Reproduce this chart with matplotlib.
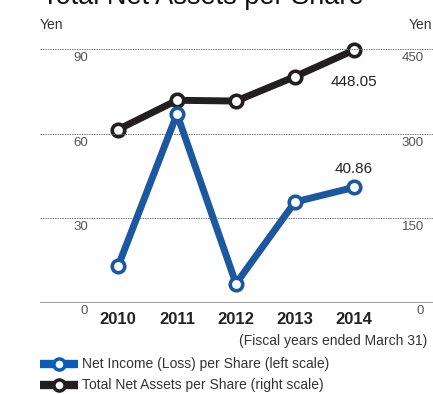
import matplotlib
matplotlib.use("Agg")
import matplotlib.pyplot as plt
from matplotlib.lines import Line2D
from matplotlib.transforms import offset_copy

plt.rcParams['font.family'] = ['Liberation Sans', 'DejaVu Sans']

years = ["2010", "2011", "2012", "2013", "2014"]
net_income = [12.8, 66.9, 6.7, 35.7, 40.86]          # left scale, yen
net_assets = [307.0, 359.0, 357.6, 401.0, 448.05]    # right scale, yen
left_ticks = [0, 30, 60, 90]
right_ticks = [0, 150, 300, 450]

blue = "#1c58a0"
black = "#231f20"
gray = "#555555"

W, H = 433, 394
fig = plt.figure(figsize=(W / 100, H / 100), dpi=100)
ax = fig.add_axes([40 / W, (H - 302.5) / H, (W - 40) / W, (302.5 - 49) / H])
ax2 = ax.twinx()
ax2.set_position(ax.get_position())

for a in (ax, ax2):
    a.set_xlim(-1.322, 5.339)
    for s in a.spines.values():
        s.set_visible(False)
    a.set_xticks([])
    a.set_yticks([])
    a.patch.set_visible(False)
ax.set_ylim(0, 90)
ax2.set_ylim(0, 450)

# gridlines and baseline
for t in left_ticks[1:]:
    ax.axhline(t, color="#777777", lw=0.7, ls=(0, (1.5, 1.0)), zorder=0)
ax.axhline(0, color="#888888", lw=1.2, zorder=0)

x = list(range(len(years)))
mk = dict(marker="o", markersize=9, markerfacecolor="white", markeredgewidth=2.6)
ax2.plot(x, net_assets, color=black, lw=5, markeredgecolor=black, clip_on=False, zorder=3, **mk)
ax.plot(x, net_income, color=blue, lw=5, markeredgecolor=blue, clip_on=False, zorder=4, **mk)
ax.set_zorder(ax2.get_zorder() + 1)

# value labels
ax2.annotate(f"{net_assets[-1]:.2f}", (x[-1], net_assets[-1]), xytext=(0, -23),
             textcoords="offset points", ha="center", va="center", fontsize=11, color="#222222")
ax.annotate(f"{net_income[-1]:.2f}", (x[-1], net_income[-1]), xytext=(0, 13),
            textcoords="offset points", ha="center", va="center", fontsize=11, color="#222222")

# axis numbers, sitting just below each gridline
left_tr = offset_copy(ax.get_yaxis_transform(), fig=fig, y=-9, units="dots")
right_tr = offset_copy(ax2.get_yaxis_transform(), fig=fig, y=-9, units="dots")
for t in left_ticks:
    ax.text((88 - 40) / (W - 40), t, str(t), transform=left_tr,
            ha="right", va="center", fontsize=9.5, color=gray)
for t in right_ticks:
    ax2.text((424 - 40) / (W - 40), t, str(t), transform=right_tr,
             ha="right", va="center", fontsize=9.5, color=gray)

for i, y in enumerate(years):
    ax.text(x[i], -5.9, y, ha="center", va="center", fontsize=12, fontweight="bold", color="#222222")

fig.text(40 / W, 1 - 25 / H, "Yen", ha="left", va="center", fontsize=10, color="#333333")
fig.text(432 / W, 1 - 25 / H, "Yen", ha="right", va="center", fontsize=10, color="#333333")
fig.text(42 / W, 1 - 4 / H, "Total Net Assets per Share", ha="left", va="baseline",
         fontsize=19.5, color="#111111")
fig.text(427 / W, 1 - 341 / H, "(Fiscal years ended March 31)", ha="right", va="center",
         fontsize=10, color="#333333")

# legend
legend_items = [("#0a5cb8", "Net Income (Loss) per Share (left scale)", 364),
                (black, "Total Net Assets per Share (right scale)", 385)]
for col, label, ypx in legend_items:
    yy = 1 - ypx / H
    fig.add_artist(Line2D([40 / W, 78 / W], [yy, yy], color=col, lw=6, solid_capstyle="butt"))
    fig.add_artist(Line2D([59 / W], [yy], marker="o", markersize=8, markerfacecolor="white",
                          markeredgecolor=col, markeredgewidth=2.5))
    fig.text(82 / W, yy, label, ha="left", va="center", fontsize=10, color="#333333")

fig.savefig("out.png", dpi=100)
